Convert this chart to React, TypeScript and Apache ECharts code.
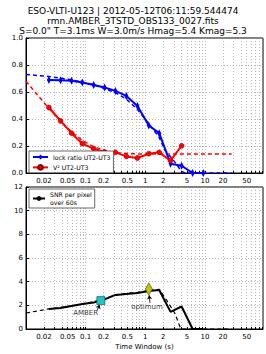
import React, { useEffect, useRef } from "react";
import * as echarts from "echarts";

const timeWin = [0.0242, 0.038, 0.058, 0.088, 0.136, 0.208, 0.315, 0.482, 0.738, 1.146, 1.71, 2.65, 4.06, 6.21, 9.38];
const lockRatio = [0.689, 0.687, 0.684, 0.67, 0.652, 0.633, 0.608, 0.571, 0.497, 0.352, 0.295, 0.069, 0.054, 0, 0];
const v2 = [0.485, 0.386, 0.295, 0.217, 0.18, 0.155, 0.153, 0.123, 0.111, 0.143, 0.153, 0.091, 0.202];
const snr = [1.7, 1.78, 1.95, 2.12, 2.23, 2.5, 2.88, 2.95, 3.05, 3.22, 3.3, 1.45, 1.9, 0, 0];

const lockFitT = [0.01, 0.024, 0.058, 0.136, 0.315, 0.48, 0.74, 1.15, 1.7, 2.13, 2.93, 4.06, 4.6, 28];
const lockFit = [0.73, 0.715, 0.69, 0.655, 0.595, 0.548, 0.47, 0.365, 0.265, 0.17, 0.098, 0.012, 0, 0];
const v2FitT = [0.01, 0.024, 0.038, 0.058, 0.088, 0.136, 0.21, 0.315, 0.48, 1, 28];
const v2Fit = [0.68, 0.48, 0.385, 0.305, 0.24, 0.195, 0.168, 0.152, 0.144, 0.14, 0.14];
const snrFitT = [0.01, 0.024, 0.058, 0.136, 0.21, 0.315, 0.48, 0.74, 1.15, 1.71, 2.27, 3.13, 3.8, 4.06, 28];
const snrFit = [1.35, 1.7, 1.95, 2.3, 2.6, 2.85, 3.0, 3.1, 3.25, 3.36, 2.45, 1.33, 0.2, 0, 0];

const xLabels = [0.02, 0.05, 0.1, 0.2, 0.5, 1, 2, 5, 10, 20, 50];
const xGrid = [
  0.01, 0.02, 0.03, 0.04, 0.05, 0.06, 0.07, 0.08, 0.09,
  0.1, 0.2, 0.3, 0.4, 0.5, 0.6, 0.7, 0.8, 0.9,
  1, 2, 3, 4, 5, 6, 7, 8, 9,
  10, 20, 30, 40, 50, 60, 70, 80, 90,
];
const amberPt = [0.18, 2.4];
const optimumPt = [1.146, 3.38];
const titleLines = [
  "ESO-VLTI-U123 | 2012-05-12T06:11:59.544474",
  "rmn.AMBER_3TSTD_OBS133_0027.fits",
  'S=0.0" T=3.1ms W=3.0m/s Hmag=5.4 Kmag=5.3',
];

const FONT = "DejaVu Sans";
const zip = (a: number[], b: number[]) => a.map((t, i) => [t, b[i]]);

function xAxis(gridIndex: number, withName: boolean) {
  return {
    type: "log",
    gridIndex,
    min: 0.01,
    max: 94,
    logBase: 10,
    name: withName ? "Time Window (s)" : "",
    nameLocation: "middle",
    nameGap: 14,
    nameTextStyle: { fontFamily: FONT, fontSize: 7, color: "#000" },
    axisLine: { show: true, lineStyle: { color: "#000", width: 1 } },
    axisTick: { show: true, inside: true, length: 2, customValues: xGrid, lineStyle: { color: "#000" } },
    axisLabel: {
      customValues: xLabels,
      fontFamily: FONT,
      fontSize: 7,
      color: "#000",
      margin: 4,
      formatter: (v: number) => String(parseFloat(Number(v).toPrecision(3))),
    },
    splitLine: { show: true, lineStyle: { color: "#999", width: 0.7, type: [1, 2] } },
  };
}

function yAxis(gridIndex: number, max: number, interval: number, dec: number) {
  return {
    type: "value",
    gridIndex,
    min: 0,
    max,
    interval,
    axisLine: { show: true, lineStyle: { color: "#000", width: 1 } },
    axisTick: { show: true, inside: true, length: 3, lineStyle: { color: "#000" } },
    axisLabel: {
      fontFamily: FONT,
      fontSize: 7,
      color: "#000",
      margin: 3,
      formatter: (v: number) => v.toFixed(dec),
    },
    splitLine: { show: true, lineStyle: { color: "#999", width: 0.7, type: [1, 2] } },
  };
}

export default function App() {
  const ref = useRef<HTMLDivElement>(null);
  useEffect(() => {
    if (!ref.current) return;
    const chart = echarts.init(ref.current, null, { renderer: "svg" });
    const option: any = {
      animation: false,
      backgroundColor: "#fff",
      textStyle: { fontFamily: FONT },
      title: {
        text: titleLines.join("\n"),
        left: "center",
        top: 1,
        textStyle: { fontFamily: FONT, fontSize: 9, fontWeight: "normal", color: "#000", lineHeight: 10 },
      },
      grid: [
        { left: 26, right: 3, top: 38, height: 135, show: true, borderColor: "#000", borderWidth: 1, backgroundColor: "transparent" },
        { left: 26, right: 3, top: 187, height: 142, show: true, borderColor: "#000", borderWidth: 1, backgroundColor: "transparent" },
      ],
      xAxis: [xAxis(0, false), xAxis(1, true)],
      yAxis: [yAxis(0, 1, 0.2, 1), yAxis(1, 12, 2, 0)],
      legend: [
        {
          data: ["lock ratio UT2-UT3", "V² UT2-UT3"],
          orient: "vertical",
          left: 29,
          top: 151,
          padding: [3, 3, 2, 3],
          itemGap: 4,
          itemWidth: 15,
          itemHeight: 6,
          borderColor: "#444",
          borderWidth: 0.8,
          borderRadius: 0,
          backgroundColor: "#fff",
          textStyle: { fontFamily: FONT, fontSize: 6.2, color: "#000" },
        },
        {
          data: ["SNR per pixel\nover 60s"],
          orient: "vertical",
          left: 29,
          top: 189,
          padding: [2, 3, 2, 3],
          itemWidth: 12,
          itemHeight: 6,
          borderColor: "#444",
          borderWidth: 0.8,
          borderRadius: 0,
          backgroundColor: "#fff",
          textStyle: { fontFamily: FONT, fontSize: 6.2, color: "#000", lineHeight: 7.5 },
        },
      ],
      series: [
        {
          type: "line",
          xAxisIndex: 0,
          yAxisIndex: 0,
          data: zip(lockFitT, lockFit),
          symbol: "none",
          lineStyle: { color: "#0000ff", width: 1.5, type: [4, 3] },
          z: 2,
        },
        {
          type: "line",
          xAxisIndex: 0,
          yAxisIndex: 0,
          data: zip(v2FitT, v2Fit),
          symbol: "none",
          lineStyle: { color: "#ff0000", width: 1.5, type: [4, 3] },
          z: 2,
        },
        {
          name: "lock ratio UT2-UT3",
          type: "line",
          xAxisIndex: 0,
          yAxisIndex: 0,
          data: zip(timeWin, lockRatio),
          symbol: "diamond",
          symbolSize: [4, 8],
          itemStyle: { color: "#0000ff" },
          lineStyle: { color: "#0000ff", width: 2 },
          z: 3,
        },
        {
          name: "V² UT2-UT3",
          type: "line",
          xAxisIndex: 0,
          yAxisIndex: 0,
          data: zip(timeWin.slice(0, v2.length), v2),
          symbol: "circle",
          symbolSize: 5,
          itemStyle: { color: "#ff0000", borderColor: "#800000", borderWidth: 0.5 },
          lineStyle: { color: "#ff0000", width: 2 },
          z: 3,
        },
        {
          type: "line",
          xAxisIndex: 1,
          yAxisIndex: 1,
          data: zip(snrFitT, snrFit),
          symbol: "none",
          lineStyle: { color: "#000", width: 1.2, type: [4, 3] },
          z: 2,
        },
        {
          name: "SNR per pixel\nover 60s",
          type: "line",
          xAxisIndex: 1,
          yAxisIndex: 1,
          data: zip(timeWin, snr),
          symbol: "none",
          itemStyle: { color: "#000" },
          lineStyle: { color: "#000", width: 2 },
          z: 3,
        },
        {
          type: "scatter",
          xAxisIndex: 1,
          yAxisIndex: 1,
          data: [amberPt],
          symbol: "rect",
          symbolSize: 8,
          itemStyle: { color: "#22c4c4", borderColor: "#107070", borderWidth: 0.8, opacity: 1 },
          z: 5,
          markLine: {
            silent: true,
            symbol: ["none", "arrow"],
            symbolSize: 4,
            label: { show: false },
            lineStyle: { color: "#000", width: 0.8, type: "solid" },
            data: [[{ coord: [0.155, 1.55] }, { coord: [0.172, 2.05] }]],
          },
        },
        {
          type: "scatter",
          xAxisIndex: 1,
          yAxisIndex: 1,
          data: [optimumPt],
          symbol: "diamond",
          symbolSize: [7, 12],
          itemStyle: { color: "#c8bc18", borderColor: "#6a6400", borderWidth: 0.8, opacity: 1 },
          z: 5,
          markLine: {
            silent: true,
            symbol: ["none", "arrow"],
            symbolSize: 4,
            label: { show: false },
            lineStyle: { color: "#000", width: 0.8, type: "solid" },
            data: [[{ coord: [1.2, 2.2] }, { coord: [1.16, 2.85] }]],
          },
        },
        {
          type: "scatter",
          xAxisIndex: 1,
          yAxisIndex: 1,
          data: [[0.1, 1.35, "AMBER"], [1.07, 1.88, "optimum"]],
          symbolSize: 0,
          silent: true,
          label: {
            show: true,
            position: "inside",
            formatter: (p: any) => p.data[2],
            fontFamily: FONT,
            fontSize: 7,
            color: "#000",
          },
          z: 6,
        },
      ],
    };
    chart.setOption(option);
    return () => chart.dispose();
  }, []);
  return <div ref={ref} style={{ position: "fixed", left: 0, top: 0, width: 266, height: 354 }} />;
}
